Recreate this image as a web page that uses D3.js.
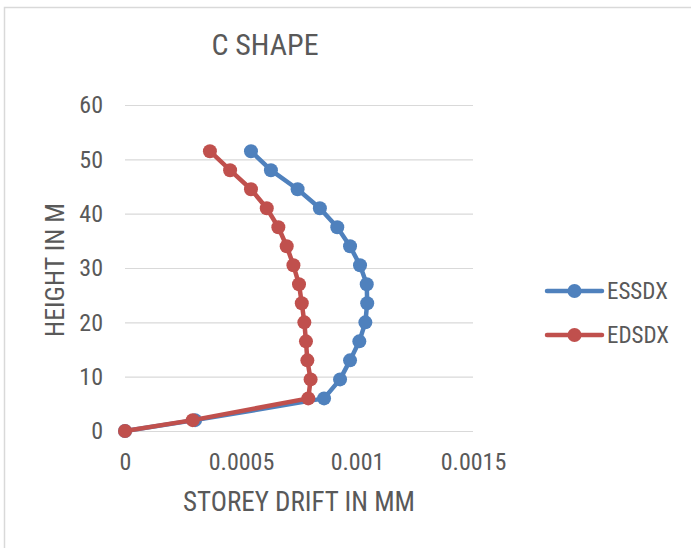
<!DOCTYPE html>
<html>
<head>
<meta charset="utf-8">
<script src="https://cdn.jsdelivr.net/npm/d3@7"></script>
<style>
  body { margin: 0; background: #fff; }
  text { font-family: "Liberation Sans Narrow", "Roboto Condensed", Roboto, sans-serif; fill: #595959; }
</style>
</head>
<body>
<div id="chart-area"></div>
<script>
// data
const heights = [0, 2, 6, 9.5, 13, 16.5, 20, 23.5, 27, 30.5, 34, 37.5, 41, 44.5, 48, 51.5];
const essdx = [0, 0.000302, 0.000858, 0.000927, 0.00097, 0.00101, 0.001036, 0.001044,
  0.001042, 0.001013, 0.00097, 0.000915, 0.00084, 0.000744, 0.000629, 0.000543];
const edsdx = [0, 0.000292, 0.00079, 0.0008, 0.000786, 0.00078, 0.000773, 0.000762,
  0.00075, 0.000726, 0.000697, 0.000661, 0.000611, 0.000543, 0.000453, 0.000366];
const seriesNames = ["ESSDX", "EDSDX"];
const seriesColors = ["#4f81bd", "#c0504d"];
const xTicks = [0, 0.0005, 0.001, 0.0015];
const xTickLabels = ["0", "0.0005", "0.001", "0.0015"];
const yTicks = [0, 10, 20, 30, 40, 50, 60];

const MARGIN = { LEFT: 125, RIGHT: 218, TOP: 105, BOTTOM: 117 };
const WIDTH = 691 - MARGIN.LEFT - MARGIN.RIGHT;
const HEIGHT = 548 - MARGIN.TOP - MARGIN.BOTTOM;

const svg = d3.select("#chart-area").append("svg")
  .attr("width", 691)
  .attr("height", 548);

// chart border
svg.append("rect")
  .attr("x", 4.5)
  .attr("y", 7.5)
  .attr("width", 690)
  .attr("height", 560)
  .attr("fill", "none")
  .attr("stroke", "#d9d9d9")
  .attr("stroke-width", 1.5);

const g = svg.append("g")
  .attr("transform", `translate(${MARGIN.LEFT}, ${MARGIN.TOP})`);

// scales
const x = d3.scaleLinear().domain([0, 0.0015]).range([0, WIDTH]);
const y = d3.scaleLinear().domain([0, 60]).range([HEIGHT, 0]);

// gridlines
const grid = g.append("g")
  .call(d3.axisLeft(y).tickValues(yTicks).tickSize(-WIDTH).tickFormat(""));
grid.select(".domain").remove();
grid.selectAll("line").attr("stroke", "#d9d9d9").attr("stroke-width", 1.2);

// axes
const xAxis = g.append("g")
  .attr("transform", `translate(0, ${HEIGHT})`)
  .call(d3.axisBottom(x).tickValues(xTicks).tickSize(0).tickPadding(22)
    .tickFormat((d, i) => xTickLabels[i]));
xAxis.select(".domain").remove();
xAxis.selectAll("text").attr("font-size", "24px").attr("font-family", null).style("fill", "#595959");

const yAxis = g.append("g")
  .call(d3.axisLeft(y).tickValues(yTicks).tickSize(0).tickPadding(22));
yAxis.select(".domain").remove();
yAxis.selectAll("text").attr("font-size", "24px").attr("font-family", null).style("fill", "#595959");

// title and axis labels
svg.append("text")
  .attr("x", 265)
  .attr("y", 55)
  .attr("text-anchor", "middle")
  .attr("font-size", "30px")
  .text("C SHAPE");

svg.append("text")
  .attr("x", 299)
  .attr("y", 511)
  .attr("text-anchor", "middle")
  .attr("font-size", "27px")
  .text("STOREY DRIFT IN MM");

svg.append("text")
  .attr("transform", "rotate(-90)")
  .attr("x", -270)
  .attr("y", 64)
  .attr("text-anchor", "middle")
  .attr("font-size", "26px")
  .text("HEIGHT IN M");

// lines + markers
const line = d3.line()
  .x(d => x(d.value))
  .y(d => y(d.height));

[essdx, edsdx].forEach((vals, i) => {
  const data = vals.map((v, j) => ({ value: v, height: heights[j] }));
  g.append("path")
    .attr("fill", "none")
    .attr("stroke", seriesColors[i])
    .attr("stroke-width", 4.5)
    .attr("stroke-linejoin", "round")
    .attr("d", line(data));
  g.selectAll(null)
    .data(data)
    .enter().append("circle")
    .attr("cx", d => x(d.value))
    .attr("cy", d => y(d.height))
    .attr("r", 7)
    .attr("fill", seriesColors[i]);
});

// legend
const legend = svg.append("g");
seriesNames.forEach((name, i) => {
  const ly = 291 + i * 44;
  legend.append("line")
    .attr("x1", 547).attr("x2", 602)
    .attr("y1", ly).attr("y2", ly)
    .attr("stroke", seriesColors[i])
    .attr("stroke-width", 4.5)
    .attr("stroke-linecap", "round");
  legend.append("circle")
    .attr("cx", 574.5).attr("cy", ly)
    .attr("r", 7)
    .attr("fill", seriesColors[i]);
  legend.append("text")
    .attr("x", 607)
    .attr("y", ly + 8)
    .attr("font-size", "23px")
    .text(name);
});
</script>
</body>
</html>
